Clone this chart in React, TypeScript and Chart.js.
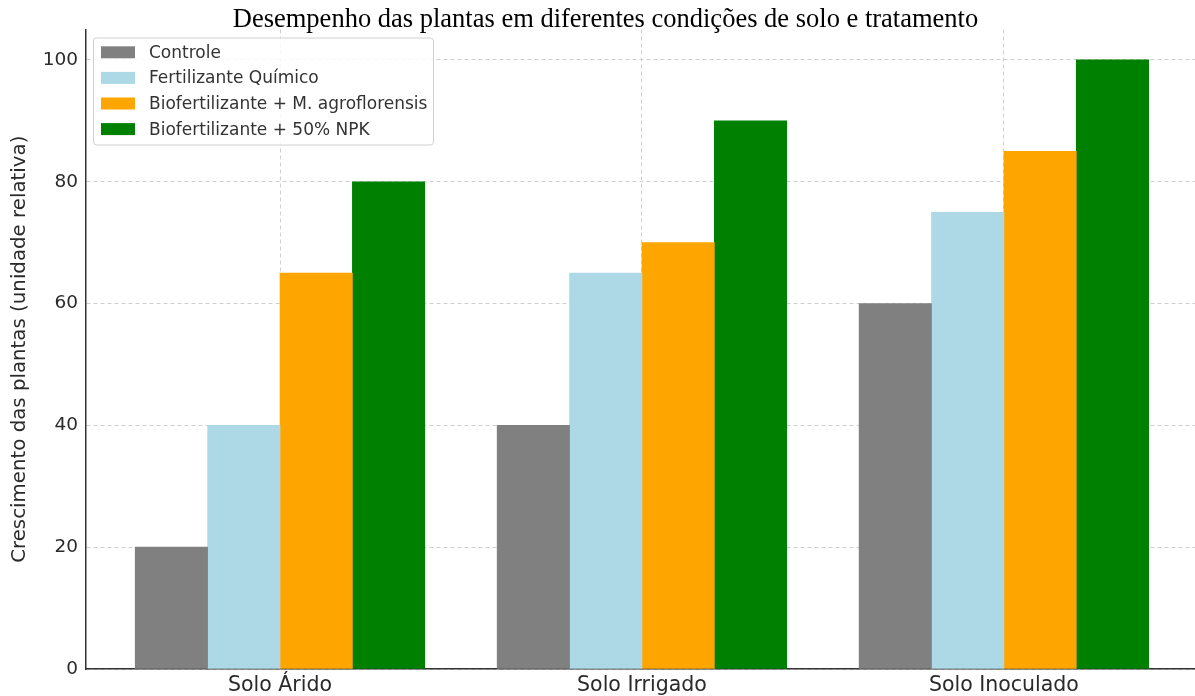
import React, { useEffect, useRef } from 'react';
import { Chart, registerables } from 'chart.js';
Chart.register(...registerables);

const categories = ['Solo Árido', 'Solo Irrigado', 'Solo Inoculado'];
const seriesNames = [
  'Controle',
  'Fertilizante Químico',
  'Biofertilizante + M. agroflorensis',
  'Biofertilizante + 50% NPK',
];
const controle = [20, 40, 60];
const fertilizanteQuimico = [40, 65, 75];
const bioAgroflorensis = [65, 70, 85];
const bioNPK = [80, 90, 100];
const yTicks = [0, 20, 40, 60, 80, 100];
const seriesColors = ['#808080', '#add8e6', '#ffa500', '#008000'];
const chartTitle = 'Desempenho das plantas em diferentes condições de solo e tratamento';
const yLabel = 'Crescimento das plantas (unidade relativa)';

const seriesValues = [controle, fertilizanteQuimico, bioAgroflorensis, bioNPK];
const BAR_W = 0.2;

const titlePlugin = {
  id: 'serifTitle',
  afterDraw(chart: any) {
    const ctx = chart.ctx;
    ctx.save();
    ctx.font = '26.5px "Liberation Serif", "Times New Roman", serif';
    ctx.fillStyle = '#000';
    ctx.textAlign = 'center';
    ctx.textBaseline = 'alphabetic';
    ctx.fillText(chartTitle, 605.5, 27);
    ctx.restore();
  },
};

const legendPlugin = {
  id: 'boxLegend',
  afterDraw(chart: any) {
    const ctx = chart.ctx;
    const { left, top } = chart.chartArea;
    const x0 = left + 7.5;
    const y0 = top + 8.5;
    const w = 340;
    const h = 107;
    ctx.save();
    ctx.beginPath();
    ctx.roundRect(x0, y0, w, h, 3);
    ctx.fillStyle = 'rgba(255,255,255,0.85)';
    ctx.fill();
    ctx.strokeStyle = '#d0d0d0';
    ctx.lineWidth = 1;
    ctx.stroke();
    ctx.font = '17px "DejaVu Sans", sans-serif';
    ctx.textBaseline = 'middle';
    ctx.textAlign = 'left';
    seriesNames.forEach((name, k) => {
      const cy = y0 + 14.3 + k * 25.6;
      ctx.fillStyle = seriesColors[k];
      ctx.fillRect(x0 + 7.5, cy - 6, 34, 12);
      ctx.fillStyle = '#333';
      ctx.fillText(name, x0 + 55.5, cy + 1);
    });
    ctx.restore();
  },
};

function App() {
  const ref = useRef<HTMLCanvasElement>(null);
  useEffect(() => {
    if (!ref.current) return;
    const datasets = seriesNames.map((name, k) => ({
      label: name,
      data: categories.map((_, i) => ({ x: i + (k - 1.5) * BAR_W, y: seriesValues[k][i] })),
      backgroundColor: seriesColors[k],
      borderWidth: 0,
      grouped: false,
      categoryPercentage: 1,
      barPercentage: 1,
    }));
    const chart = new Chart(ref.current, {
      type: 'bar',
      data: { datasets },
      plugins: [titlePlugin, legendPlugin],
      options: {
        animation: false,
        responsive: false,
        maintainAspectRatio: false,
        layout: { padding: { top: 29.5, left: 0, right: 0, bottom: 0 } },
        plugins: {
          legend: { display: false },
          title: { display: false },
          tooltip: { enabled: false },
        },
        scales: {
          x: {
            type: 'linear',
            offset: false,
            min: -0.536,
            max: 2.528,
            afterBuildTicks: (s: any) => {
              s.ticks = categories.map((_, i) => ({ value: i }));
            },
            afterFit: (s: any) => {
              s.height = 27;
            },
            ticks: {
              callback: (v: any) => categories[Math.round(v)] ?? '',
              font: { family: 'DejaVu Sans', size: 20.5 },
              color: '#2a2a2a',
              padding: 4,
              autoSkip: false,
              maxRotation: 0,
            },
            grid: { offset: false, color: '#cfcfcf', lineWidth: 1, drawTicks: false },
            border: { display: true, color: '#333', width: 1.5, dash: [4, 3] },
          },
          y: {
            type: 'linear',
            min: 0,
            max: 105,
            afterBuildTicks: (s: any) => {
              s.ticks = yTicks.map((v) => ({ value: v }));
            },
            afterFit: (s: any) => {
              s.width = 86;
            },
            ticks: {
              font: { family: 'DejaVu Sans', size: 18.5 },
              color: '#2a2a2a',
              padding: 8,
            },
            title: {
              display: true,
              text: yLabel,
              font: { family: 'DejaVu Sans', size: 19.8 },
              color: '#2a2a2a',
              padding: { top: 8, bottom: 0 },
            },
            grid: { color: '#cfcfcf', lineWidth: 1, drawTicks: false },
            border: { display: true, color: '#333', width: 1.5, dash: [4, 3] },
          },
        },
      },
    } as any);
    return () => chart.destroy();
  }, []);
  return (
    <div style={{ position: 'fixed', left: 0, top: 0, width: 1195, height: 696, background: '#fff' }}>
      <canvas ref={ref} width={1195} height={696} style={{ width: 1195, height: 696 }} />
    </div>
  );
}

export default App;
